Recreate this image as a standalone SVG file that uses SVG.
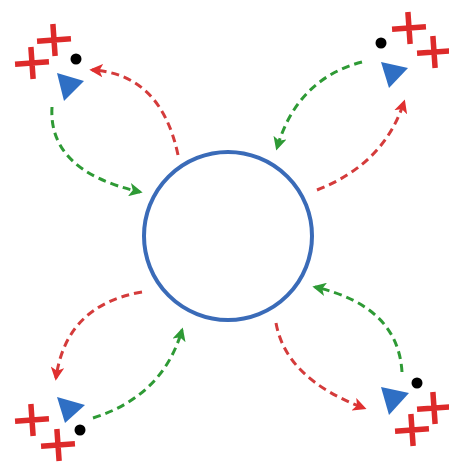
<svg xmlns="http://www.w3.org/2000/svg" width="449" height="465" viewBox="0 0 449 465">
<defs>
<style>
.cr{stroke:#dd2a2a;stroke-width:5.5;fill:none;stroke-linecap:butt}
.dot{fill:#000}
.tri{fill:#2f6fc4}
.red{stroke:#d43b3b;stroke-width:3;fill:none;stroke-dasharray:8 5}
.grn{stroke:#2e9a35;stroke-width:3;fill:none;stroke-dasharray:8 5}
</style>
<marker id="ar" viewBox="0 0 10 10" refX="8" refY="5" markerWidth="4.5" markerHeight="4.5" orient="auto" markerUnits="strokeWidth">
<path d="M0,0 L10,5 L0,10 L2.5,5 Z" fill="#e03030"/>
</marker>
<marker id="ag" viewBox="0 0 10 10" refX="8" refY="5" markerWidth="4.5" markerHeight="4.5" orient="auto" markerUnits="strokeWidth">
<path d="M0,0 L10,5 L0,10 L2.5,5 Z" fill="#2e9a35"/>
</marker>
<g id="xx">
<path class="cr" d="M-17,0 H17 M0,-16 V16"/>
</g>
</defs>
<rect width="449" height="465" fill="#fff"/>
<g id="center">
<circle cx="228" cy="236" r="84" fill="none" stroke="#3a6bb8" stroke-width="4"/>
</g>
<g id="node-tl">
<use href="#xx" transform="translate(54,40) rotate(-4)"/>
<use href="#xx" transform="translate(32,63) rotate(-4)"/>
<circle class="dot" cx="76" cy="59" r="5.5"/>
<polygon class="tri" points="57,73 84,81 64,101"/>
</g>
<g id="node-tr">
<use href="#xx" transform="translate(409,28) rotate(-4)"/>
<use href="#xx" transform="translate(434,52) rotate(-4)"/>
<circle class="dot" cx="381" cy="43" r="5.5"/>
<polygon class="tri" points="381,62 408,68 389,88"/>
</g>
<g id="node-bl">
<use href="#xx" transform="translate(32,420) rotate(-4)"/>
<use href="#xx" transform="translate(58,445) rotate(-4)"/>
<circle class="dot" cx="80" cy="430" r="5.5"/>
<polygon class="tri" points="57,397 85,405 65,423"/>
</g>
<g id="node-br">
<use href="#xx" transform="translate(434,408) rotate(-4)"/>
<use href="#xx" transform="translate(412,430) rotate(-4)"/>
<circle class="dot" cx="417" cy="383" r="5.5"/>
<polygon class="tri" points="381,387 409,393 389,415"/>
</g>
<g id="connectors">
<path class="red" d="M178,155 Q161,74 92,70" marker-end="url(#ar)"/>
<path class="grn" d="M52,107 Q48,171 140,192" marker-end="url(#ag)"/>
<path class="grn" d="M362,62 Q297,79 277,148" marker-end="url(#ag)"/>
<path class="red" d="M317,190 Q384,164 404,102" marker-end="url(#ar)"/>
<path class="red" d="M142,292 Q66,305 56,378" marker-end="url(#ar)"/>
<path class="grn" d="M93,418 Q163,396 182,330" marker-end="url(#ag)"/>
<path class="grn" d="M402,372 Q398,306 315,287" marker-end="url(#ag)"/>
<path class="red" d="M276,323 Q286,379 364,408" marker-end="url(#ar)"/>
</g>
</svg>
